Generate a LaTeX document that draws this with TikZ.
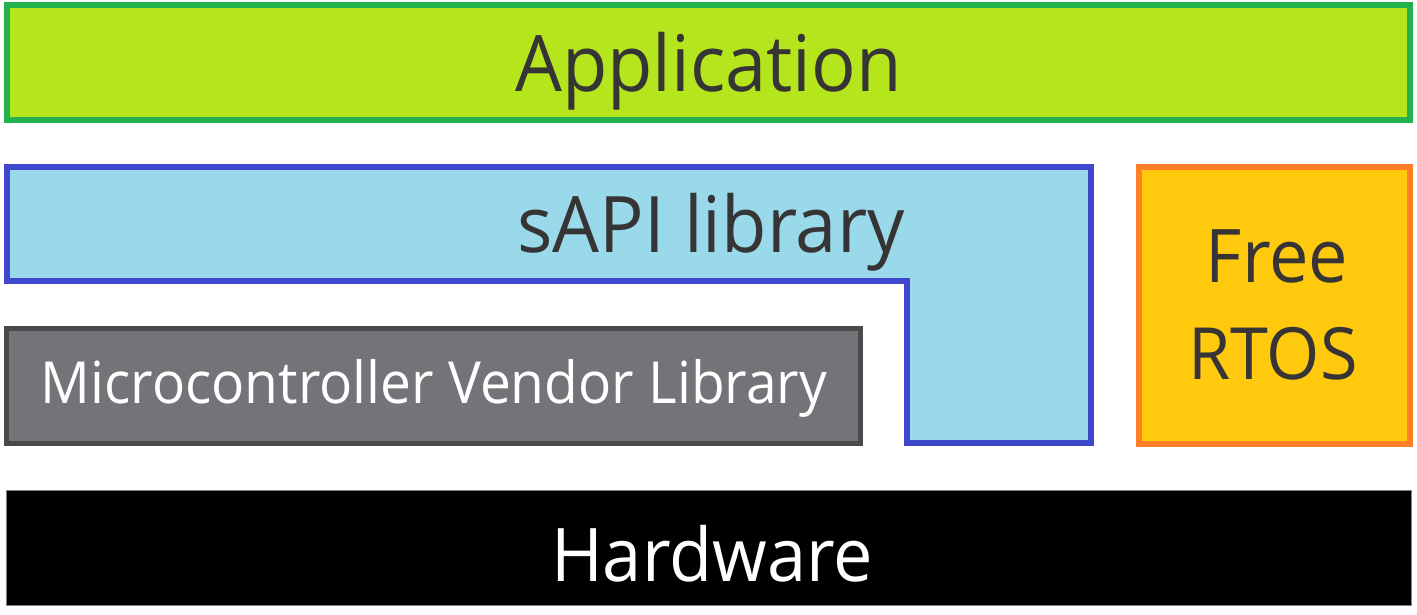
\documentclass[tikz,border=0pt]{standalone}
\usepackage{fontspec}
\setmainfont[FakeStretch=0.95]{Open Sans}
\definecolor{appfill}{HTML}{B5E61D}
\definecolor{appline}{HTML}{22B14C}
\definecolor{sapifill}{HTML}{99D9EA}
\definecolor{sapiline}{HTML}{3F48CC}
\definecolor{rtosfill}{HTML}{FFC90E}
\definecolor{rtosline}{HTML}{FF7F27}
\definecolor{vendfill}{HTML}{737378}
\definecolor{vendline}{HTML}{4A4A4A}
\definecolor{txt}{HTML}{363434}
\tikzset{
  layer/.style={line width=6pt, line join=miter},
  lbl/.style={inner sep=0pt, anchor=base, text=txt},
}
\begin{document}
\begin{tikzpicture}[x=1pt,y=-1pt]
\useasboundingbox (0,0) rectangle (1417,614);
% Application
\draw[layer, draw=appline, fill=appfill] (7,5) rectangle (1410,120);
\node[lbl, font=\fontsize{78}{90}\selectfont] (app) at (708.5,91) {Application};
% sAPI
\draw[layer, draw=sapiline, fill=sapifill] (7,167) -- (1091,167) -- (1091,443) -- (907,443) -- (907,281) -- (7,281) -- cycle;
\node[lbl, font=\fontsize{78}{90}\selectfont] (sapi) at (711,252) {sAPI library};
% FreeRTOS
\draw[layer, draw=rtosline, fill=rtosfill] (1139,167) rectangle (1410,444);
\node[lbl, font=\fontsize{74}{90}\selectfont] (free) at (1277,282) {Free};
\node[lbl, font=\fontsize{72}{90}\selectfont] (rtos) at (1273,379) {RTOS};
% Vendor library
\draw[line width=5pt, draw=vendline, fill=vendfill] (6.5,328.5) rectangle (860.5,443.5);
\node[lbl, text=white, font=\fontsize{58}{70}\selectfont] (vend) at (434,403) {Microcontroller Vendor Library};
% Hardware
\draw[line width=1pt, draw=gray, fill=black] (6,490) rectangle (1411,605);
\node[lbl, text=white, font=\fontsize{74}{90}\selectfont] (hw) at (712,581) {Hardware};
\end{tikzpicture}
\end{document}
